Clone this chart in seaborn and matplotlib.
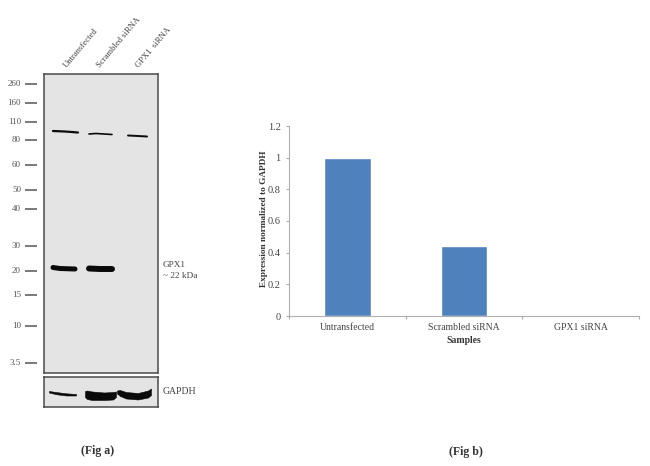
import matplotlib
matplotlib.use("Agg")
import matplotlib.pyplot as plt
import pandas as pd
import seaborn as sns

W, H = 650, 466

# Fig b values
samples = ["Untransfected", "Scrambled siRNA", "GPX1 siRNA"]
expression = [1.0, 0.44, 0.0]
y_ticks = [0, 0.2, 0.4, 0.6, 0.8, 1, 1.2]

# Fig a ladder: label and pixel row
ladder_labels = ["260", "160", "110", "80", "60", "50", "40", "30", "20", "15", "10", "3.5"]
ladder_rows = [84, 103, 122, 140, 165, 190, 209, 246, 271, 295, 326, 363]

# Fig a bands, pixel positions
upper_x = [[53, 65, 78], [89, 96, 104, 112], [128, 138, 147]]
upper_y = [[131, 131.5, 132.5], [134, 133.5, 134, 134.5], [135.5, 136, 136.5]]
upper_lw = [1.6, 1.2, 1.4]
gpx_x = [[53, 60, 75], [89, 100, 112]]
gpx_y = [[267.5, 268.5, 269], [268.5, 269, 269]]
gpx_lw = [3.6, 4.3]
gapdh_x = [
    [49, 56, 66, 76],
    [85, 87, 92, 104, 113, 116],
    [117, 120, 126, 138, 148, 151],
]
gapdh_top = [
    [391, 392, 393.3, 394],
    [391, 390.5, 391.5, 392.5, 392, 391.5],
    [390.5, 390, 392, 393, 390.5, 388.5],
]
gapdh_bottom = [
    [392.5, 394.2, 395.5, 395.5],
    [397, 399, 400, 400, 399.5, 397],
    [393.5, 396, 398.5, 399.5, 397.5, 395],
]


def axes_px(fig, left, top, right, bottom):
    return fig.add_axes([left / W, 1 - bottom / H, (right - left) / W, (bottom - top) / H])


def draw_blot_panel(fig, top, bottom):
    ax = axes_px(fig, 44, top, 158, bottom)
    ax.set_facecolor("#e4e4e4")
    ax.set_xlim(44, 158)
    ax.set_ylim(bottom, top)
    ax.set_xticks([])
    ax.set_yticks([])
    for spine in ax.spines.values():
        spine.set_color("#4a4a4a")
        spine.set_linewidth(1.1)
    return ax


def draw_band(ax, xs, ys, lw):
    band = pd.DataFrame({"x": xs, "y": ys})
    sns.lineplot(data=band, x="x", y="y", ax=ax, color="#0a0a0a", linewidth=lw,
                 estimator=None, sort=False, legend=False)
    ax.set_xlabel("")
    ax.set_ylabel("")


def main():
    sns.set_theme(style="white")
    plt.rcParams["font.family"] = ["Liberation Serif", "DejaVu Serif"]

    fig = plt.figure(figsize=(W / 100, H / 100), dpi=100, facecolor="white")

    # Fig a: main blot
    blot = draw_blot_panel(fig, 74, 373)
    for xs, ys, lw in zip(upper_x, upper_y, upper_lw):
        draw_band(blot, xs, ys, lw)
    for xs, ys, lw in zip(gpx_x, gpx_y, gpx_lw):
        draw_band(blot, xs, ys, lw)

    # Fig a: GAPDH strip
    strip = draw_blot_panel(fig, 377, 407)
    for xs, top, bottom in zip(gapdh_x, gapdh_top, gapdh_bottom):
        strip.fill_between(xs, top, bottom, color="#0a0a0a", linewidth=0.4)

    # overlay in pixel coordinates for the labels around the blot
    overlay = fig.add_axes([0, 0, 1, 1], facecolor="none")
    overlay.set_xlim(0, W)
    overlay.set_ylim(H, 0)
    overlay.axis("off")
    overlay.hlines(ladder_rows, 25, 37, color="#555555", linewidth=1.1)
    for label, row in zip(ladder_labels, ladder_rows):
        overlay.text(21, row, label, ha="right", va="center", fontsize=6.5, color="#555555")

    lane_text = ["Untransfected", "Scrambled siRNA", "GPX1  siRNA"]
    lane_x = [68, 102, 141]
    for label, x in zip(lane_text, lane_x):
        overlay.text(x, 69, label, rotation=50, rotation_mode="anchor", ha="left", va="bottom",
                     fontsize=6.2, color="#444444")

    overlay.text(163, 265, "GPX1", ha="left", va="center", fontsize=6.7, color="#444444")
    overlay.text(163, 276, "~ 22 kDa", ha="left", va="center", fontsize=6.7, color="#444444")
    overlay.text(163, 392, "GAPDH", ha="left", va="center", fontsize=7, color="#444444")
    overlay.text(98, 451, "(Fig a)", ha="center", va="center", fontsize=8.5, fontweight="bold", color="#333333")
    overlay.text(466, 452, "(Fig b)", ha="center", va="center", fontsize=8.5, fontweight="bold", color="#333333")

    # Fig b: bar chart
    ax = axes_px(fig, 289, 126, 639, 316)
    df = pd.DataFrame({"sample": samples, "expression": expression})
    sns.barplot(data=df, x="sample", y="expression", ax=ax, color="#4f81bd", width=0.4, saturation=1)
    ax.set_xlim(-0.5, 2.5)
    ax.set_ylim(0, 1.2)
    ax.set_yticks(y_ticks)
    ax.set_yticklabels([f"{t:g}" for t in y_ticks])
    ax.set_xticks([-0.5, 0.5, 1.5, 2.5], minor=True)
    ax.tick_params(axis="x", which="major", length=0, labelsize=7, labelcolor="#444444", pad=5)
    ax.tick_params(axis="x", which="minor", length=2, color="#aaaaaa", width=0.8, direction="out", bottom=True)
    ax.tick_params(axis="y", length=2, color="#aaaaaa", width=0.8, direction="out", left=True,
                   labelsize=7.5, labelcolor="#444444", pad=4)
    ax.spines["top"].set_visible(False)
    ax.spines["right"].set_visible(False)
    ax.spines["left"].set_color("#b0b0b0")
    ax.spines["bottom"].set_color("#b0b0b0")
    ax.spines["left"].set_linewidth(0.8)
    ax.spines["bottom"].set_linewidth(0.8)
    ax.set_xlabel("Samples", fontsize=7, fontweight="bold", color="#333333", labelpad=3)
    ax.set_ylabel("Expression normalized to GAPDH", fontsize=6.7, fontweight="bold", color="#333333", labelpad=0)
    ax.yaxis.set_label_coords(-0.06, 0.51)

    fig.savefig("out.png", dpi=100)
    plt.close(fig)


if __name__ == "__main__":
    main()
